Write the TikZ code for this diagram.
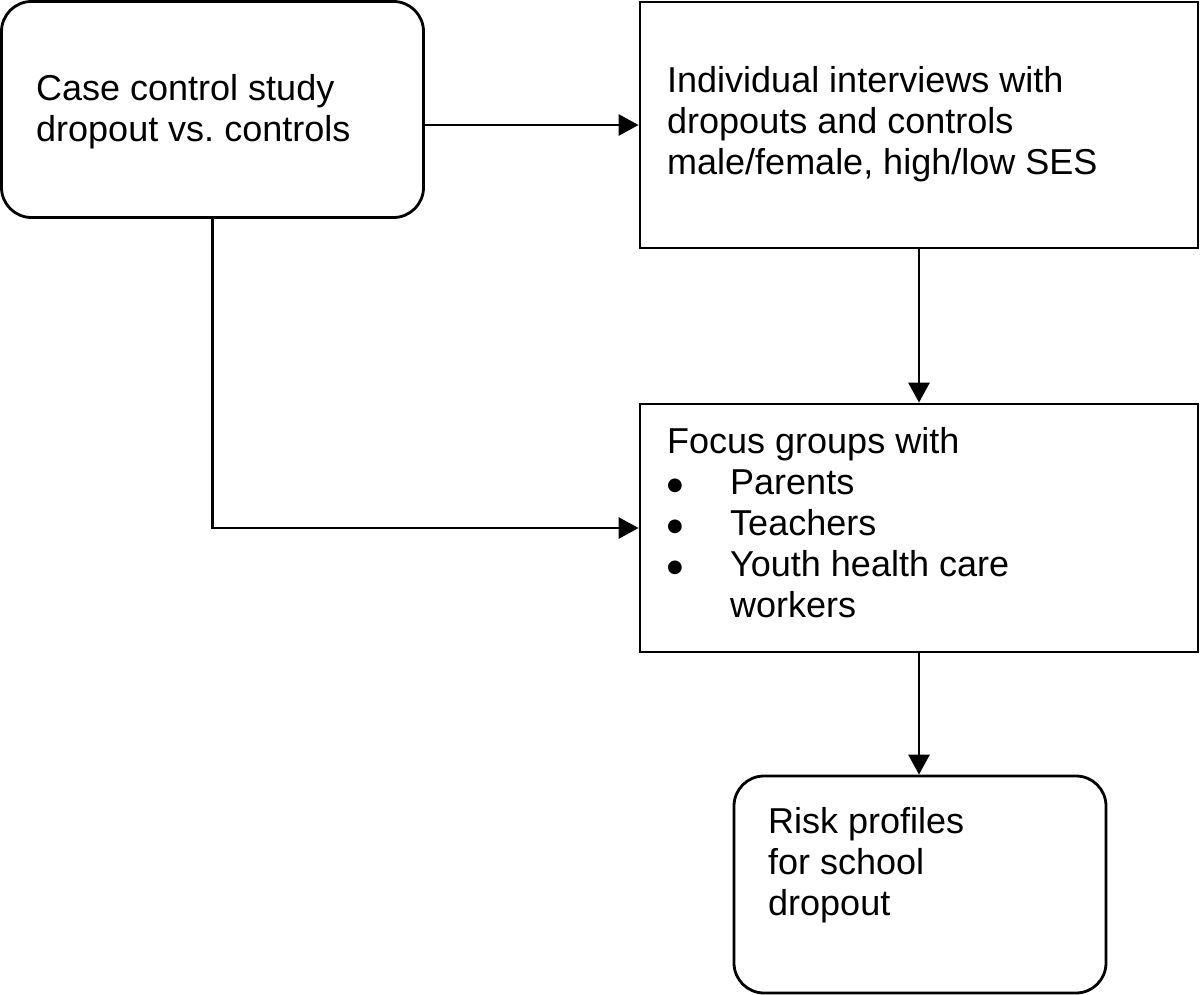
\documentclass[tikz,border=0pt]{standalone}
\usepackage{fontspec}
\setmainfont{Liberation Sans}
\newfontfamily\dejavu{DejaVu Sans}
\usetikzlibrary{arrows.meta}
\tikzset{
  boxr/.style={draw, line width=2.8pt, rounded corners=30pt, inner sep=0pt},
  boxs/.style={draw, line width=2.8pt, inner sep=0pt},
  txt/.style={anchor=base west, inner sep=0pt, font=\fontsize{36}{41}\selectfont},
  arr/.style={line width=2.8pt, -{Triangle[length=20pt,width=21pt]}},
}
\newcommand{\tb}[2]{\parbox[t]{#1}{\raggedright\frenchspacing\fontsize{36}{41}\selectfont #2}}
\newcommand{\bul}{\makebox[63pt][l]{\raisebox{3.5pt}{\dejavu\fontsize{18}{41}\selectfont ●}}}
\begin{document}
\begin{tikzpicture}[x=1pt,y=-1pt]
\useasboundingbox (0,0) rectangle (1200,995);
\node[boxr, minimum width=422pt, minimum height=216pt] (A) at (212.5,109.5) {};
\node[boxs, minimum width=558pt, minimum height=246pt] (B) at (919,125) {};
\node[boxs, minimum width=558pt, minimum height=248pt] (C) at (919,528) {};
\node[boxr, minimum width=372pt, minimum height=217pt] (D) at (920,884.5) {};
\node[txt] (tA) at (36,101) {\tb{380pt}{Case control study\\dropout vs. controls}};
\node[txt] (tB) at (667,93) {\tb{520pt}{Individual interviews with\\dropouts and controls\\male/female, high/low SES}};
\node[txt] (tC) at (667,453) {\tb{520pt}{Focus groups with\\\bul Parents\\\bul Teachers\\\bul Youth health care\\\hspace*{63pt}workers}};
\node[txt] (tD) at (768,833) {\tb{320pt}{Risk profiles\\for school\\dropout}};
\draw[arr] (A.east |- B.west) -- (B.west);
\draw[arr] (B.south) -- (C.north);
\draw[arr] (A.south) |- (C.west);
\draw[arr] (C.south) -- (C.south |- D.north);
\end{tikzpicture}
\end{document}
